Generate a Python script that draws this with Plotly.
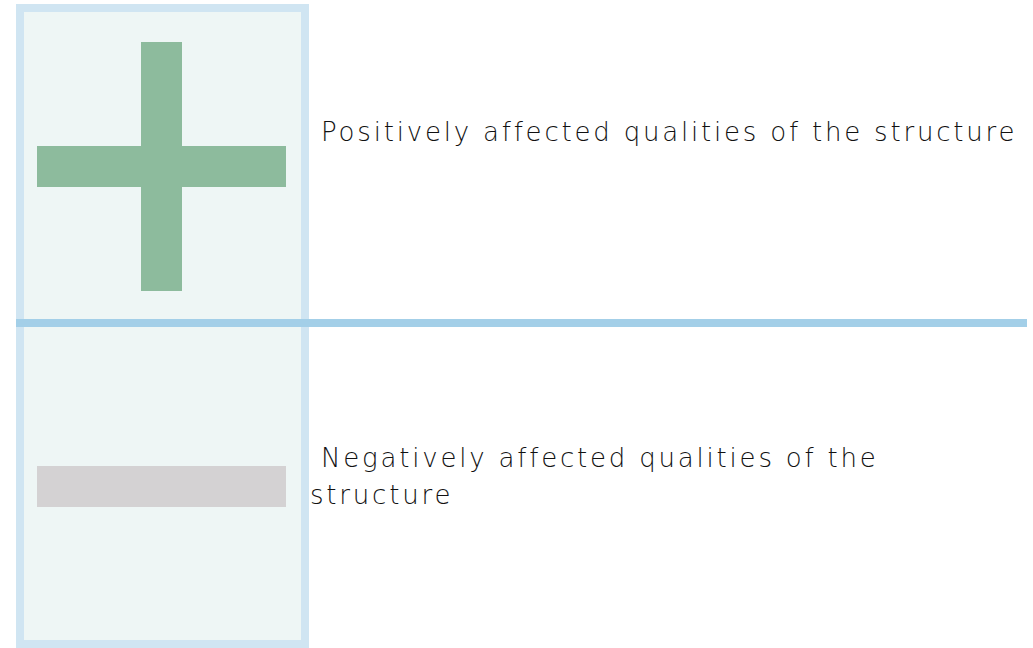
import plotly.graph_objects as go

# Data
signs = ["+", "-"]
labels = [
    " Positively affected qualities of the structure",
    " Negatively affected qualities of the<br>structure",
]
sign_colors = ["#8DBB9D", "#D4D2D3"]

W, H = 1033, 648
fig = go.Figure()

shapes = []
# panel
shapes.append(dict(type="rect", xref="x", yref="y", x0=20, x1=305, y0=8, y1=644,
                   fillcolor="#EEF6F5", line=dict(color="#D0E5F2", width=8), layer="below"))
# divider line
shapes.append(dict(type="line", xref="x", yref="y", x0=16, x1=1027, y0=323, y1=323,
                   line=dict(color="#A3CFE8", width=8)))

row_centers = [166.5, 486.5]
for sign, color, yc in zip(signs, sign_colors, row_centers):
    shapes.append(dict(type="rect", xref="x", yref="y", x0=37, x1=286, y0=yc - 20.5, y1=yc + 20.5,
                       fillcolor=color, line=dict(width=0)))
    if sign == "+":
        shapes.append(dict(type="rect", xref="x", yref="y", x0=141, x1=182, y0=42, y1=291,
                           fillcolor=color, line=dict(width=0)))

font = dict(family="DejaVu Sans", size=26, color="#111111", weight=200)
text_rows = [(labels[0], 132)]
neg_lines = labels[1].split("<br>")
text_rows += [(neg_lines[0], 458), (neg_lines[1], 495)]

annotations = []
for txt, yv in text_rows:
    annotations.append(dict(x=308, y=yv, xref="x", yref="y", text=txt, showarrow=False,
                            xanchor="left", yanchor="middle", align="left", font=font))

fig.update_layout(
    width=W, height=H,
    margin=dict(l=0, r=0, t=0, b=0),
    paper_bgcolor="white", plot_bgcolor="white",
    xaxis=dict(range=[0, W], visible=False, fixedrange=True),
    yaxis=dict(range=[H, 0], visible=False, fixedrange=True),
    shapes=shapes, annotations=annotations, showlegend=False,
)

post = """
document.body.style.margin='0';
document.querySelectorAll('.annotation-text').forEach(function(t){t.style.letterSpacing='2.8px';});
"""
fig.write_html("out.html", config={"displayModeBar": False}, post_script=post)
